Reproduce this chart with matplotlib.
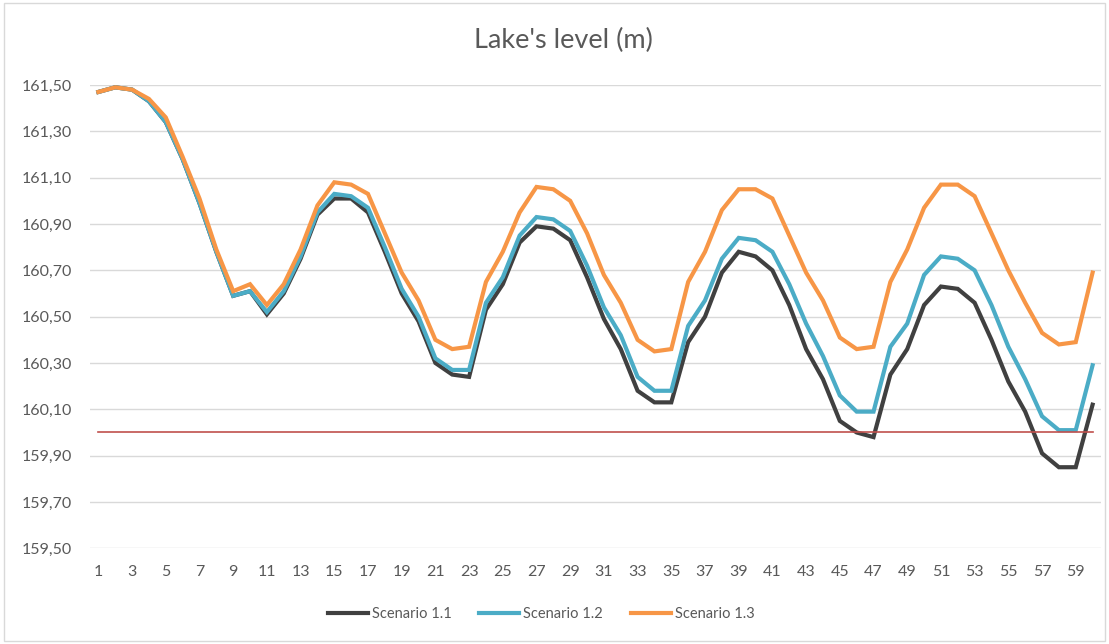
import numpy as np
import matplotlib
matplotlib.use("Agg")
import matplotlib.pyplot as plt
from matplotlib.patches import Rectangle
from matplotlib.ticker import FuncFormatter, FixedLocator

# Monthly time steps
steps = list(range(1, 61))

scenario_1_1 = [
    161.47, 161.49, 161.48, 161.43, 161.34, 161.18, 160.99, 160.78, 160.59, 160.61,
    160.51, 160.60, 160.75, 160.94, 161.01, 161.01, 160.95, 160.78, 160.60, 160.48,
    160.30, 160.25, 160.24, 160.53, 160.64, 160.82, 160.89, 160.88, 160.83, 160.67,
    160.49, 160.36, 160.18, 160.13, 160.13, 160.39, 160.50, 160.69, 160.78, 160.76,
    160.70, 160.55, 160.36, 160.23, 160.05, 160.00, 159.98, 160.25, 160.36, 160.55,
    160.63, 160.62, 160.56, 160.40, 160.22, 160.09, 159.91, 159.85, 159.85, 160.12,
]
scenario_1_2 = [
    161.47, 161.49, 161.48, 161.43, 161.34, 161.18, 160.99, 160.78, 160.59, 160.61,
    160.52, 160.61, 160.76, 160.95, 161.03, 161.02, 160.97, 160.80, 160.62, 160.50,
    160.32, 160.27, 160.27, 160.56, 160.67, 160.85, 160.93, 160.92, 160.87, 160.72,
    160.54, 160.42, 160.24, 160.18, 160.18, 160.46, 160.57, 160.75, 160.84, 160.83,
    160.78, 160.64, 160.47, 160.33, 160.16, 160.09, 160.09, 160.37, 160.47, 160.68,
    160.76, 160.75, 160.70, 160.55, 160.37, 160.23, 160.07, 160.01, 160.01, 160.29,
]
scenario_1_3 = [
    161.47, 161.49, 161.48, 161.44, 161.36, 161.19, 161.01, 160.79, 160.61, 160.64,
    160.55, 160.64, 160.79, 160.98, 161.08, 161.07, 161.03, 160.86, 160.69, 160.57,
    160.40, 160.36, 160.37, 160.65, 160.78, 160.95, 161.06, 161.05, 161.00, 160.86,
    160.68, 160.56, 160.40, 160.35, 160.36, 160.65, 160.78, 160.96, 161.05, 161.05,
    161.01, 160.85, 160.69, 160.57, 160.41, 160.36, 160.37, 160.65, 160.79, 160.97,
    161.07, 161.07, 161.02, 160.86, 160.70, 160.56, 160.43, 160.38, 160.39, 160.69,
]
series_names = ["Scenario 1.1", "Scenario 1.2", "Scenario 1.3"]
threshold_level = 160.00

y_ticks = [159.5, 159.7, 159.9, 160.1, 160.3, 160.5, 160.7, 160.9, 161.1, 161.3, 161.5]
x_ticks = list(range(1, 61, 2))

FONT = ["Lato", "DejaVu Sans"]
TEXT_GRAY = "#595959"
GRID_GRAY = "#d9d9d9"
colors = ["#404040", "#4bacc6", "#f79646"]

plt.rcParams["font.family"] = FONT

fig = plt.figure(figsize=(11.09, 6.44), dpi=100)
fig.patches.append(Rectangle((0.004, 0.004), 0.992, 0.992, transform=fig.transFigure,
                             fill=False, edgecolor="#d9d9d9", linewidth=1.0))

ax = fig.add_axes([0.0811, 0.1486, 0.9117, 0.7194])

for vals, name, col in zip([scenario_1_1, scenario_1_2, scenario_1_3], series_names, colors):
    ax.plot(steps, vals, color=col, linewidth=3.0, label=name, solid_joinstyle="miter")

ax.plot(steps, [threshold_level] * len(steps), color="#c0504d", linewidth=1.2,
        label="_nolegend_")

ax.set_xlim(0.5, 60.5)
ax.set_ylim(159.5, 161.5)
ax.yaxis.set_major_locator(FixedLocator(y_ticks))
ax.yaxis.set_major_formatter(FuncFormatter(lambda v, p: f"{v:.2f}".replace(".", ",")))
ax.set_xticks(x_ticks)
ax.set_xticklabels([str(t) for t in x_ticks])

ax.grid(axis="y", color=GRID_GRAY, linewidth=1.0)
ax.set_axisbelow(True)
for s in ax.spines.values():
    s.set_visible(False)
ax.tick_params(axis="both", length=0, colors=TEXT_GRAY, labelsize=11.5)
ax.tick_params(axis="y", pad=13)
ax.tick_params(axis="x", pad=12)

fig.text(0.508, 0.937, "Lake's level (m)", ha="center", va="center",
         fontsize=19.5, color=TEXT_GRAY)

leg = fig.legend(loc="center", bbox_to_anchor=(0.488, 0.046), ncol=3, frameon=False,
                 fontsize=10.5, handlelength=2.75, handletextpad=0.28, columnspacing=1.9,
                 labelcolor=TEXT_GRAY)

fig.savefig("out.png", dpi=100, facecolor="white")
